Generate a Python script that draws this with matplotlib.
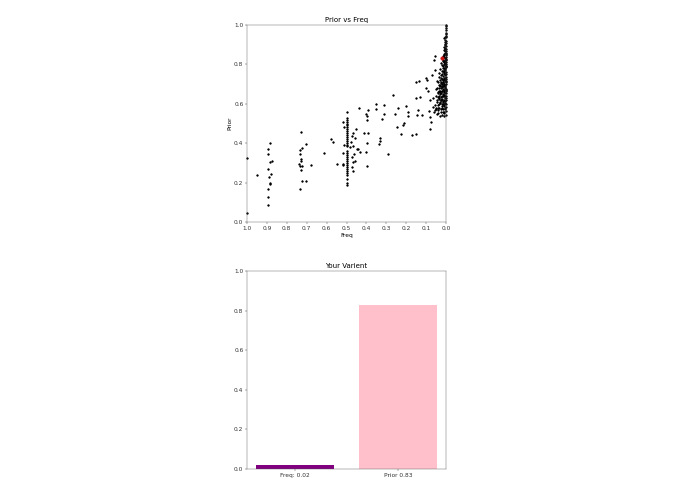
import matplotlib
matplotlib.use("Agg")
import matplotlib.pyplot as plt

# --- data ---

# points with freq close to 0 (dense cluster on the right)
cluster = [
    (0.001, 0.995), (0.000, 0.975), (0.002, 0.955), (0.000, 0.94), (0.004, 0.925),
    (0.001, 0.91), (0.006, 0.905), (0.000, 0.895), (0.003, 0.885), (0.008, 0.875),
    (0.001, 0.87), (0.005, 0.86), (0.011, 0.855), (0.000, 0.85), (0.002, 0.84),
    (0.014, 0.845), (0.007, 0.835), (0.000, 0.825), (0.019, 0.83), (0.004, 0.815),
    (0.010, 0.81), (0.001, 0.80), (0.023, 0.805), (0.006, 0.795), (0.013, 0.79),
    (0.000, 0.785), (0.017, 0.78), (0.003, 0.775), (0.028, 0.775), (0.008, 0.765),
    (0.021, 0.765), (0.000, 0.76), (0.012, 0.755), (0.033, 0.755), (0.005, 0.745),
    (0.025, 0.745), (0.002, 0.735), (0.016, 0.74), (0.009, 0.73), (0.037, 0.735),
    (0.000, 0.725), (0.020, 0.725), (0.030, 0.72), (0.006, 0.715), (0.013, 0.71),
    (0.042, 0.71), (0.001, 0.70), (0.024, 0.705), (0.010, 0.695), (0.018, 0.69),
    (0.035, 0.695), (0.004, 0.685), (0.027, 0.68), (0.000, 0.675), (0.014, 0.675),
    (0.046, 0.68), (0.008, 0.665), (0.022, 0.665), (0.039, 0.66), (0.002, 0.655),
    (0.031, 0.65), (0.016, 0.65), (0.011, 0.64), (0.000, 0.64), (0.026, 0.635),
    (0.051, 0.64), (0.006, 0.63), (0.019, 0.625), (0.036, 0.625), (0.003, 0.615),
    (0.013, 0.61), (0.044, 0.61), (0.028, 0.605), (0.000, 0.60), (0.009, 0.595),
    (0.021, 0.59), (0.057, 0.595), (0.005, 0.58), (0.033, 0.58), (0.015, 0.575),
    (0.048, 0.575), (0.001, 0.565), (0.024, 0.56), (0.011, 0.555), (0.040, 0.555),
    (0.062, 0.56), (0.018, 0.545), (0.030, 0.54), (0.007, 0.575), (0.003, 0.605),
    (0.000, 0.62), (0.002, 0.67), (0.000, 0.71), (0.003, 0.75), (0.000, 0.79),
    (0.002, 0.82), (0.000, 0.86), (0.004, 0.88), (0.000, 0.92), (0.001, 0.96),
    (0.000, 1.00), (0.007, 0.78), (0.009, 0.70), (0.012, 0.66), (0.005, 0.69),
    (0.015, 0.72), (0.011, 0.76), (0.007, 0.82), (0.004, 0.64), (0.016, 0.60),
    (0.020, 0.70), (0.023, 0.62), (0.029, 0.66), (0.026, 0.71), (0.032, 0.69),
    (0.017, 0.815), (0.009, 0.85), (0.012, 0.89), (0.006, 0.90), (0.003, 0.94),
    (0.008, 0.935),
]

# more of the same cluster, filling its darkest part
cluster_dense = [
    (0.002, 0.985), (0.001, 0.945), (0.003, 0.915), (0.001, 0.88), (0.006, 0.87),
    (0.002, 0.855), (0.009, 0.84), (0.004, 0.83), (0.001, 0.81), (0.012, 0.80),
    (0.005, 0.805), (0.002, 0.79), (0.010, 0.78), (0.004, 0.77), (0.014, 0.765),
    (0.001, 0.75), (0.007, 0.75), (0.019, 0.75), (0.003, 0.73), (0.012, 0.725),
    (0.023, 0.73), (0.006, 0.72), (0.001, 0.715), (0.017, 0.71), (0.008, 0.70),
    (0.003, 0.695), (0.014, 0.69), (0.021, 0.685), (0.006, 0.68), (0.001, 0.665),
    (0.011, 0.67), (0.018, 0.665), (0.025, 0.655), (0.004, 0.655), (0.009, 0.645),
    (0.014, 0.64), (0.021, 0.64), (0.002, 0.63), (0.008, 0.62), (0.017, 0.615),
    (0.033, 0.64), (0.025, 0.62), (0.005, 0.605), (0.012, 0.59), (0.001, 0.585),
    (0.019, 0.58), (0.027, 0.575), (0.008, 0.56), (0.014, 0.56), (0.036, 0.60),
    (0.040, 0.635), (0.031, 0.61), (0.022, 0.60), (0.038, 0.58), (0.002, 0.545),
    (0.010, 0.54), (0.034, 0.665), (0.028, 0.695), (0.019, 0.795), (0.015, 0.82),
]

# scattered points between 0.05 and 0.45
middle = [
    (0.435, 0.58), (0.454, 0.474), (0.466, 0.452), (0.471, 0.435), (0.457, 0.425),
    (0.477, 0.406), (0.466, 0.384), (0.449, 0.373), (0.440, 0.373), (0.432, 0.356),
    (0.461, 0.347), (0.474, 0.331), (0.466, 0.305), (0.457, 0.31), (0.474, 0.28),
    (0.469, 0.258), (0.482, 0.381), (0.410, 0.452), (0.398, 0.516), (0.395, 0.54),
    (0.402, 0.546), (0.393, 0.57), (0.393, 0.452), (0.398, 0.401), (0.402, 0.356),
    (0.395, 0.283), (0.351, 0.597), (0.350, 0.572), (0.336, 0.398), (0.331, 0.428),
    (0.333, 0.411), (0.323, 0.524), (0.311, 0.592), (0.311, 0.55), (0.292, 0.347),
    (0.267, 0.646), (0.254, 0.546), (0.247, 0.482), (0.239, 0.58), (0.225, 0.445),
    (0.218, 0.494), (0.213, 0.503), (0.200, 0.59), (0.190, 0.558), (0.192, 0.536),
    (0.173, 0.442), (0.150, 0.445), (0.150, 0.631), (0.150, 0.71), (0.134, 0.715),
    (0.141, 0.57), (0.146, 0.545), (0.133, 0.634), (0.121, 0.541), (0.101, 0.68),
    (0.099, 0.732), (0.096, 0.722), (0.087, 0.563), (0.082, 0.533), (0.079, 0.474),
    (0.074, 0.508), (0.082, 0.617), (0.092, 0.663), (0.067, 0.583), (0.066, 0.631),
    (0.071, 0.744), (0.059, 0.82), (0.057, 0.845), (0.054, 0.772), (0.045, 0.715),
    (0.049, 0.578), (0.045, 0.55), (0.042, 0.57), (0.054, 0.567), (0.040, 0.595),
    (0.045, 0.617), (0.049, 0.675), (0.040, 0.654), (0.037, 0.681), (0.034, 0.631),
    (0.029, 0.664),
]

# column of points at freq = 0.5 and its neighbours
column = [
    (0.500, 0.56), (0.500, 0.53), (0.500, 0.52), (0.500, 0.51), (0.500, 0.50),
    (0.500, 0.49), (0.500, 0.48), (0.500, 0.47), (0.500, 0.46), (0.500, 0.45),
    (0.500, 0.44), (0.500, 0.43), (0.500, 0.42), (0.500, 0.41), (0.500, 0.40),
    (0.500, 0.39), (0.500, 0.385), (0.500, 0.36), (0.500, 0.35), (0.500, 0.34),
    (0.500, 0.33), (0.500, 0.32), (0.500, 0.31), (0.500, 0.30), (0.500, 0.29),
    (0.500, 0.28), (0.500, 0.27), (0.500, 0.26), (0.500, 0.25), (0.500, 0.24),
    (0.500, 0.22), (0.500, 0.20), (0.500, 0.19), (0.514, 0.39), (0.519, 0.35),
    (0.514, 0.482), (0.516, 0.508), (0.519, 0.292), (0.516, 0.287), (0.550, 0.292),
    (0.568, 0.405), (0.578, 0.422), (0.613, 0.351),
]

# left groups (freq around 0.9 and 0.73)
left = [
    (1.000, 0.325), (1.000, 0.046), (0.950, 0.238), (0.882, 0.401), (0.894, 0.373),
    (0.894, 0.347), (0.882, 0.305), (0.874, 0.31), (0.894, 0.268), (0.877, 0.243),
    (0.889, 0.226), (0.882, 0.196), (0.886, 0.192), (0.894, 0.17), (0.894, 0.128),
    (0.894, 0.084), (0.729, 0.455), (0.723, 0.378), (0.704, 0.395), (0.734, 0.364),
    (0.734, 0.344), (0.729, 0.319), (0.729, 0.31), (0.738, 0.293), (0.734, 0.285),
    (0.724, 0.283), (0.729, 0.263), (0.676, 0.287), (0.724, 0.207), (0.704, 0.206),
    (0.734, 0.165),
]

your_freq = 0.02
your_prior = 0.83

bar_labels = ["Freq: 0.02", "Prior 0.83"]
bar_values = [0.02, 0.83]
bar_colors = ["purple", "pink"]

# --- figure ---
plt.rcParams["font.size"] = 11.5
plt.rcParams["axes.titlesize"] = 13.5
plt.rcParams["axes.labelsize"] = 11.5
plt.rcParams["xtick.labelsize"] = 11.5
plt.rcParams["ytick.labelsize"] = 11.5
plt.rcParams["axes.edgecolor"] = "#555555"
plt.rcParams["xtick.color"] = "#333333"
plt.rcParams["ytick.color"] = "#333333"

fig = plt.figure(figsize=(695 / 37, 494 / 37), dpi=37)

all_pts = cluster + cluster_dense + middle + column + left
freq = [p[0] for p in all_pts]
prior = [p[1] for p in all_pts]

ax1 = fig.add_axes([247 / 695, 1 - 222 / 494, 199 / 695, 197 / 494])
ax1.scatter(freq, prior, s=11, color="black", clip_on=False)
ax1.scatter([your_freq], [your_prior], s=45, color="#cc1111", zorder=3)
ax1.set_xlim(1.0, 0.0)
ax1.set_ylim(0.0, 1.0)
ax1.set_xticks([1.0, 0.9, 0.8, 0.7, 0.6, 0.5, 0.4, 0.3, 0.2, 0.1, 0.0])
ax1.set_title("Prior vs Freq")
ax1.set_xlabel("Freq")
ax1.set_ylabel("Prior")

ax2 = fig.add_axes([247 / 695, 1 - 469 / 494, 199 / 695, 198 / 494])
ax2.bar(range(len(bar_values)), bar_values, width=0.75, color=bar_colors)
ax2.set_xticks(range(len(bar_labels)))
ax2.set_xticklabels(bar_labels)
ax2.set_ylim(0.0, 1.0)
ax2.set_title("Your Varient")

fig.savefig("out.png", dpi=37)
